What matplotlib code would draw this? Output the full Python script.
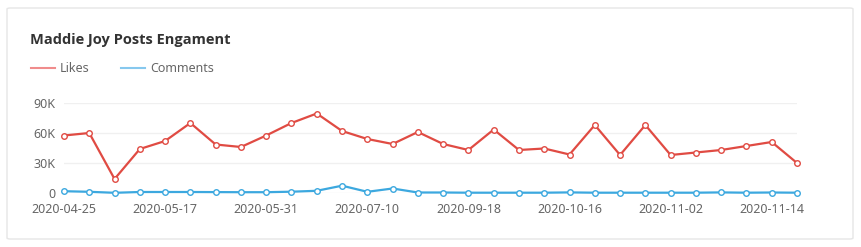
import matplotlib.pyplot as plt
from matplotlib.patches import FancyBboxPatch
from matplotlib.lines import Line2D

# data
likes = [57.5, 60, 14, 44, 52, 70, 48.5, 46, 57.5, 70, 79.5,
         62, 54, 49, 61, 49, 43, 63.5, 43, 44.5, 38.5,
         68, 38, 68, 38, 40.5, 43, 47, 51, 30]
comments = [1.8, 1.2, 0.2, 1.0, 1.0, 1.0, 0.9, 0.8, 0.8, 1.3, 2.2,
            7.3, 1.2, 4.5, 0.5, 0.5, 0.3, 0.3, 0.3, 0.3, 0.6,
            0.3, 0.3, 0.3, 0.3, 0.3, 0.6, 0.3, 0.5, 0.3]
likes = [v * 1000 for v in likes]
comments = [v * 1000 for v in comments]

tick_pos = [0, 4, 8, 12, 16, 20, 24, 28]
tick_labels = ["2020-04-25", "2020-05-17", "2020-05-31", "2020-07-10",
               "2020-09-18", "2020-10-16", "2020-11-02", "2020-11-14"]
y_ticks = [0, 30000, 60000, 90000]
y_labels = ["0", "30K", "60K", "90K"]

red = "#e04b43"
blue = "#3ca8df"
grey = "#666666"

plt.rcParams["font.family"] = ["Noto Sans", "DejaVu Sans"]

fig = plt.figure(figsize=(8.62, 2.47), dpi=100)

# card background
card = FancyBboxPatch((7 / 862, 8 / 247), 846 / 862, 231 / 247,
                      boxstyle="round,pad=0,rounding_size=0.004",
                      transform=fig.transFigure, facecolor="white",
                      edgecolor="#e6e6e6", linewidth=1, zorder=-5)
fig.patches.append(card)

ax = fig.add_axes([64 / 862, 1 - 193 / 247, 733 / 862, 90 / 247])
ax.set_zorder(2)
x = list(range(len(likes)))

ax.plot(x, likes, color=red, lw=1.6, marker="o", ms=4,
        mfc="white", mec=red, mew=1, clip_on=False, zorder=3)
ax.plot(x, comments, color=blue, lw=1.6, marker="o", ms=4,
        mfc="white", mec=blue, mew=1, clip_on=False, zorder=3)

ax.set_xlim(0, len(likes) - 1)
ax.set_ylim(0, 90000)
ax.set_yticks(y_ticks)
ax.set_yticklabels(y_labels)
ax.set_xticks(tick_pos)
ax.set_xticklabels(tick_labels)
ax.tick_params(length=0, labelsize=9, colors=grey, pad=6)
ax.tick_params(axis="x", pad=7)
ax.grid(axis="y", color="#f0f0f0", lw=1)
for s in ax.spines.values():
    s.set_visible(False)
ax.set_facecolor("none")

fig.text(30 / 862, 1 - 40 / 247, "Maddie Joy Posts Engament", fontsize=10.5,
         fontweight="bold", family=["Open Sans", "DejaVu Sans"],
         color="#333333", va="center")

# legend
fig.lines.append(Line2D([31 / 862, 55 / 862], [1 - 68 / 247] * 2,
                        transform=fig.transFigure, color="#f08c8c", lw=1.5))
fig.text(60 / 862, 1 - 68 / 247, "Likes", fontsize=9, color=grey, va="center")
fig.lines.append(Line2D([121 / 862, 145 / 862], [1 - 68 / 247] * 2,
                        transform=fig.transFigure, color="#86c8ee", lw=1.5))
fig.text(150 / 862, 1 - 68 / 247, "Comments", fontsize=9, color=grey, va="center")

fig.savefig("out.png", dpi=100)
